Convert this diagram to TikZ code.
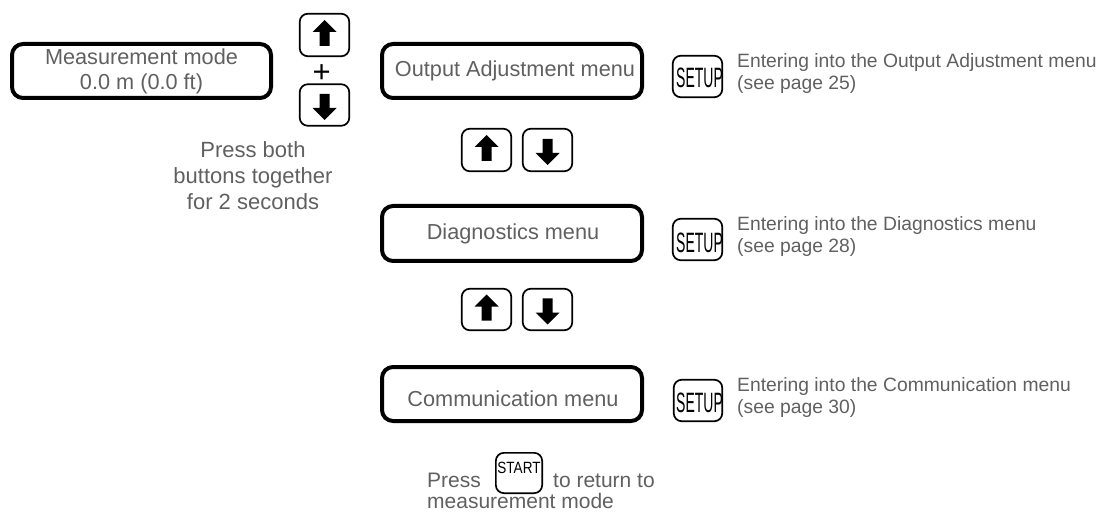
\documentclass[tikz,border=0pt]{standalone}
\usepackage{fontspec}
\usepackage{graphicx}
\setmainfont{Liberation Sans}
\definecolor{txt}{RGB}{96,96,96}
\tikzset{
  menubox/.style={draw=black, line width=4pt, rounded corners=11pt, minimum width=260pt, minimum height=54pt, inner sep=0pt},
  keybox/.style={draw=black, line width=1.7pt, rounded corners=8pt, minimum width=49.5pt, minimum height=41.5pt, inner sep=0pt},
  boxtxt/.style={text=txt, font=\fontsize{21.7}{25}\selectfont, inner sep=0pt, anchor=base},
  desctxt/.style={text=txt, font=\fontsize{19.3}{22}\selectfont, inner sep=0pt, anchor=base west},
  bottxt/.style={text=txt, font=\fontsize{21}{24}\selectfont, inner sep=0pt, anchor=base west},
  keylbl/.style={text=black, inner sep=0pt, anchor=base},
  uparr/.pic={\fill[black] (0,-15) -- (12,-3) -- (5,-3) -- (5,11) -- (-5,11) -- (-5,-3) -- (-12,-3) -- cycle;},
  downarr/.pic={\fill[black] (0,15) -- (12,3) -- (5,3) -- (5,-11) -- (-5,-11) -- (-5,3) -- (-12,3) -- cycle;},
}
\newcommand{\setuplbl}{\scalebox{0.5}[1]{\fontsize{28}{28}\selectfont SETUP}}
\newcommand{\startlbl}{\scalebox{0.83}[1]{\fontsize{16.3}{16.3}\selectfont START}}
\begin{document}
\begin{tikzpicture}[x=1pt,y=-1pt]
\useasboundingbox (0,0) rectangle (1101,513);
% left: measurement mode
\node[menubox, minimum width=259pt] (meas) at (141.5,71) {};
\node[boxtxt] (meas1) at (141.5,65) {Measurement mode};
\node[boxtxt] (meas2) at (141.5,90) {0.0 m (0.0 ft)};
\node[keybox, minimum height=42.5pt] (kU0) at (324.5,35) {};
\pic at (kU0.center) {uparr};
\node[text=black, font=\fontsize{31}{31}\selectfont, inner sep=0pt] (plus) at (321.7,73.5) {+};
\node[keybox] (kD0) at (324.5,105) {};
\pic at (kD0.center) {downarr};
\node[boxtxt, font=\fontsize{22}{26}\selectfont] (pb1) at (253,158) {Press both};
\node[boxtxt, font=\fontsize{22}{26}\selectfont] (pb2) at (253,184) {buttons together};
\node[boxtxt, font=\fontsize{22}{26}\selectfont] (pb3) at (253,210) {for 2 seconds};
% output adjustment
\node[menubox] (outA) at (512,71) {};
\node[boxtxt] (outAt) at (515,77) {Output Adjustment menu};
\node[keybox] (set1) at (697.5,76.5) {};
\node[keylbl] (set1l) at (699.5,88) {\setuplbl};
\node[desctxt] (d1a) at (737,68) {Entering into the Output Adjustment menu};
\node[desctxt] (d1b) at (737,90) {(see page 25)};
\node[keybox, minimum height=42.5pt] (kU1) at (486.5,150) {};
\pic at (kU1.center) {uparr};
\node[keybox, minimum height=42.5pt] (kD1) at (547.5,150) {};
\pic at (kD1.center) {downarr};
% diagnostics
\node[menubox, minimum height=55pt] (diag) at (512,233.5) {};
\node[boxtxt] (diagt) at (513,240) {Diagnostics menu};
\node[keybox] (set2) at (697.5,239.5) {};
\node[keylbl] (set2l) at (699.5,253) {\setuplbl};
\node[desctxt] (d2a) at (737,231) {Entering into the Diagnostics menu};
\node[desctxt] (d2b) at (737,253) {(see page 28)};
\node[keybox] (kU2) at (486.5,309.5) {};
\pic at (kU2.center) {uparr};
\node[keybox] (kD2) at (547.5,309.5) {};
\pic at (kD2.center) {downarr};
% communication
\node[menubox] (comm) at (512,394) {};
\node[boxtxt] (commt) at (513,406) {Communication menu};
\node[keybox, minimum width=48.5pt] (set3) at (698,400.5) {};
\node[keylbl] (set3l) at (699.5,412) {\setuplbl};
\node[desctxt] (d3a) at (737,391) {Entering into the Communication menu};
\node[desctxt] (d3b) at (737,413) {(see page 30)};
% bottom
\node[bottxt] (pr) at (427,487) {Press};
\node[keybox, minimum width=46.3pt, minimum height=40.3pt] (start) at (519,473) {};
\node[keylbl] (startl) at (519,473) {\startlbl};
\node[bottxt] (ret) at (553,487) {to return to};
\node[bottxt] (mm) at (427,508) {measurement mode};
\end{tikzpicture}
\end{document}
